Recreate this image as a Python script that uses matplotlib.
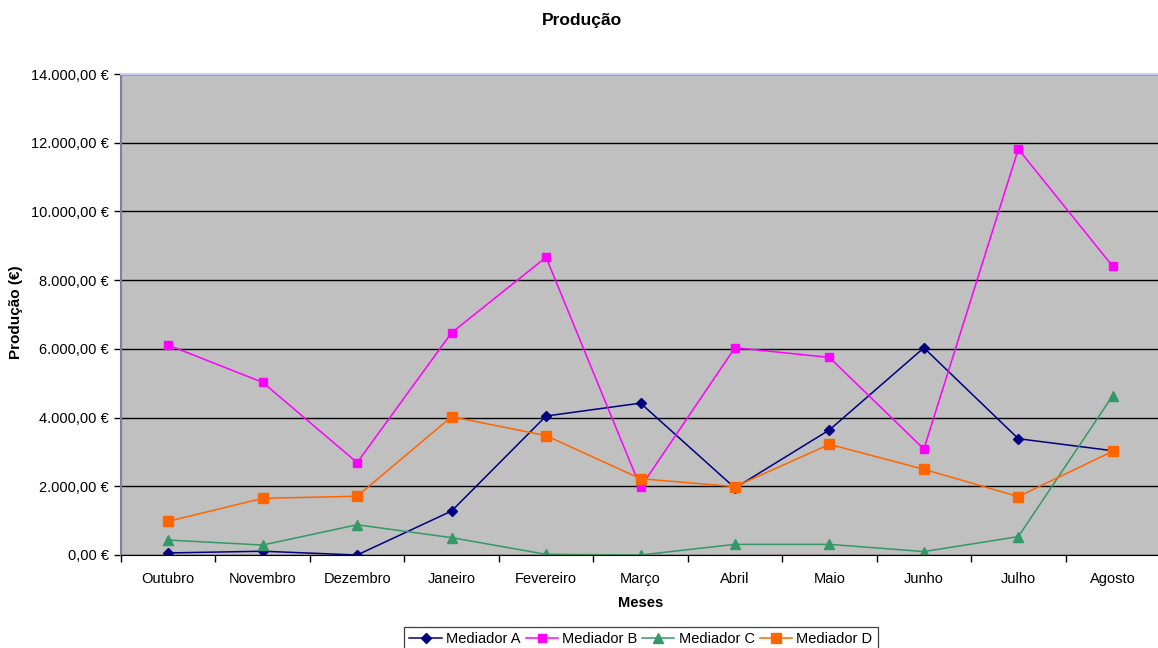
import matplotlib
matplotlib.use("Agg")
import matplotlib.pyplot as plt
from matplotlib.ticker import FuncFormatter, FixedLocator

plt.rcParams['font.family'] = ['Liberation Sans', 'DejaVu Sans']

meses = ["Outubro", "Novembro", "Dezembro", "Janeiro", "Fevereiro", "Março",
         "Abril", "Maio", "Junho", "Julho", "Agosto"]
mediador_a = [60, 110, 0, 1280, 4045, 4420, 1950, 3640, 6030, 3385, 3035]
mediador_b = [6110, 5025, 2690, 6470, 8665, 1970, 6035, 5750, 3085, 11815, 8400]
mediador_c = [435, 290, 880, 505, 20, 0, 310, 310, 100, 535, 4640]
mediador_d = [980, 1650, 1710, 4025, 3475, 2220, 1990, 3220, 2495, 1700, 3020]

W, H = 1158, 648
fig = plt.figure(figsize=(W / 100, H / 100), dpi=100)
ax = fig.add_axes([121 / W, (H - 555) / H, (1160 - 121) / W, (555 - 74) / H])
ax.set_facecolor("#C0C0C0")

x = list(range(len(meses)))
ax.plot(x, mediador_a, color="#000080", marker="D", markersize=5.2, lw=1.1, label="Mediador A")
ax.plot(x, mediador_b, color="#FF00FF", marker="s", markersize=6, lw=1.1, label="Mediador B")
ax.plot(x, mediador_c, color="#339966", marker="^", markersize=6.5, lw=1.1, label="Mediador C")
ax.plot(x, mediador_d, color="#FF6600", marker="s", markersize=7, lw=1.1, label="Mediador D")

ax.set_xlim(-0.5, len(meses) - 0.5)
ax.set_ylim(0, 14000)
ax.set_yticks(range(0, 14001, 2000))


def euro(v, pos):
    s = f"{v:,.2f}"
    s = s.replace(",", "X").replace(".", ",").replace("X", ".")
    return s + " €"


ax.yaxis.set_major_formatter(FuncFormatter(euro))
ax.yaxis.grid(True, color="black", lw=1)
ax.set_axisbelow(True)

# tick marks between months, labels centred on each month
ax.xaxis.set_major_locator(FixedLocator([i - 0.5 for i in range(len(meses) + 1)]))
ax.xaxis.set_major_formatter(FuncFormatter(lambda v, p: ""))
ax.xaxis.set_minor_locator(FixedLocator(x))
ax.set_xticklabels(meses, minor=True)
ax.tick_params(axis="x", which="major", length=5, width=1, color="black")
ax.tick_params(axis="x", which="minor", length=0, pad=12, labelsize=10.5)
ax.tick_params(axis="y", length=5, width=1, color="black", pad=4, labelsize=10.5)

ax.spines["left"].set_color("#7F7F9F")
ax.spines["left"].set_linewidth(1.5)
ax.spines["bottom"].set_color("black")
ax.spines["top"].set_color("#CCCCFF")
ax.spines["top"].set_linewidth(1.5)
ax.spines["right"].set_visible(False)

fig.text(582 / W, 1 - 20 / H, "Produção", ha="center", va="center", fontsize=12.5, fontweight="bold")
fig.text(641 / W, 1 - 603 / H, "Meses", ha="center", va="center", fontsize=10.5, fontweight="bold")
fig.text(16 / W, 1 - 312 / H, "Produção (€)", ha="center", va="center", rotation=90,
         fontsize=11, fontweight="bold")

leg = fig.legend(loc="upper center", bbox_to_anchor=(641 / W, 1 - 627 / H), ncol=4,
                 fontsize=10.5, frameon=True, fancybox=False, framealpha=1,
                 edgecolor="#404040", handlelength=2.2, handletextpad=0.3,
                 columnspacing=0.35, borderpad=0.35, borderaxespad=0)
leg.get_frame().set_linewidth(0.9)

fig.savefig("out.png", dpi=100)
